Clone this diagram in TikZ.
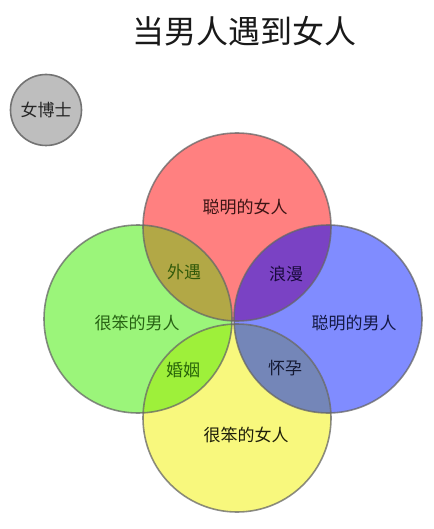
\documentclass[tikz,border=0pt]{standalone}
\usepackage{fontspec}
\newfontfamily\cjk{Noto Sans CJK SC}
\begin{document}
\begin{tikzpicture}[x=1pt,y=-1pt,
  lbl/.style={font=\cjk\fontsize{17}{17}\selectfont, inner sep=0pt, text=black!85},
  ring/.style={draw=black!60, draw opacity=0.75, line width=1.6pt}]
\useasboundingbox (0,0) rectangle (433,529);
\def\r{94}
\coordinate (R) at (237,227);
\coordinate (Y) at (237,418);
\coordinate (G) at (138,319);
\coordinate (B) at (328,319);
% base fills
\fill[fill={rgb,255:red,255;green,128;blue,128}] (R) circle (\r);
\fill[fill={rgb,255:red,155;green,245;blue,122}] (G) circle (\r);
\fill[fill={rgb,255:red,128;green,140;blue,255}] (B) circle (\r);
\fill[fill={rgb,255:red,248;green,248;blue,125}] (Y) circle (\r);
% overlaps
\begin{scope}\clip (R) circle (\r);
  \fill[fill={rgb,255:red,178;green,168;blue,70}] (G) circle (\r);
  \fill[fill={rgb,255:red,122;green,66;blue,196}] (B) circle (\r);
\end{scope}
\begin{scope}\clip (Y) circle (\r);
  \fill[fill={rgb,255:red,158;green,240;blue,58}] (G) circle (\r);
  \fill[fill={rgb,255:red,116;green,134;blue,184}] (B) circle (\r);
\end{scope}
% borders
\draw[ring] (R) circle (\r);
\draw[ring] (G) circle (\r);
\draw[ring] (B) circle (\r);
\draw[ring] (Y) circle (\r);
% small circle
\node[circle, minimum size=71pt, inner sep=0pt, fill={rgb,255:red,190;green,190;blue,190}, draw=black!55, line width=1.6pt, font=\cjk\fontsize{17}{17}\selectfont, text=black!85] (phd) at (46,110) {女博士};
% title
\node[font=\cjk\fontsize{32}{32}\selectfont, text=black!90, inner sep=0pt] (title) at (244,31) {当男人遇到女人};
% labels
\node[lbl, text={rgb,255:red,60;green,20;blue,20}] (t1) at (245,207) {聪明的女人};
\node[lbl, text={rgb,255:red,50;green,90;blue,10}] (t2) at (184,272) {外遇};
\node[lbl, text={rgb,255:red,25;green,10;blue,60}] (t3) at (286,274) {浪漫};
\node[lbl, text={rgb,255:red,40;green,100;blue,20}] (t4) at (137,323) {很笨的男人};
\node[lbl, text={rgb,255:red,20;green,25;blue,70}] (t5) at (354,323) {聪明的男人};
\node[lbl, text={rgb,255:red,40;green,100;blue,10}] (t6) at (183,370) {婚姻};
\node[lbl, text={rgb,255:red,20;green,25;blue,50}] (t7) at (285,368) {怀孕};
\node[lbl, text={rgb,255:red,30;green,30;blue,10}] (t8) at (246,435) {很笨的女人};
\end{tikzpicture}
\end{document}
